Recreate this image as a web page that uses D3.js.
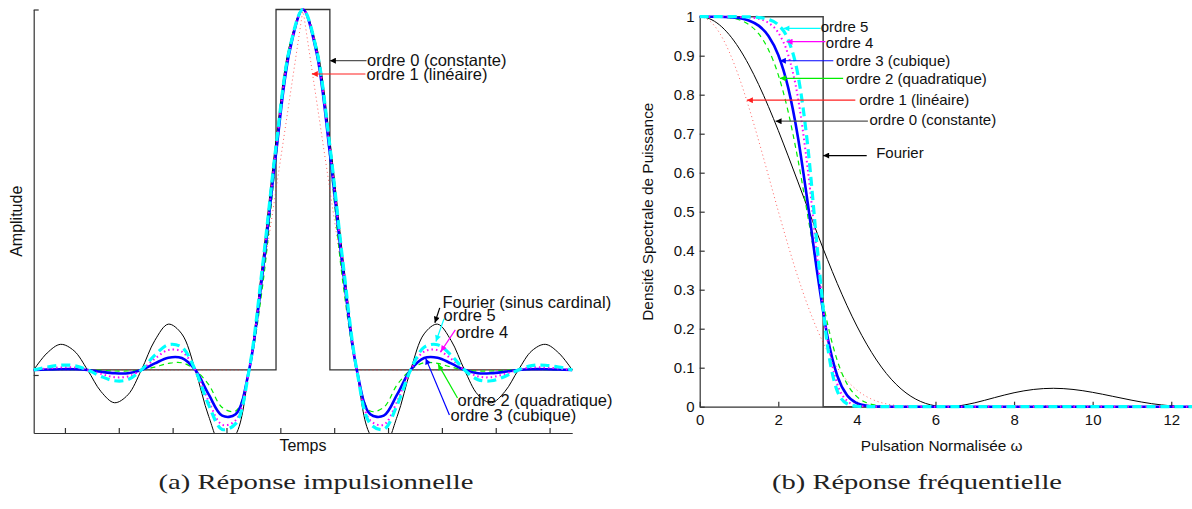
<!DOCTYPE html>
<html>
<head>
<meta charset="utf-8">
<script src="https://cdn.jsdelivr.net/npm/d3@7"></script>
<style>
  body { margin: 0; background: #fff; }
  svg { display: block; }
  text { font-family: "Liberation Sans", Arial, Helvetica, sans-serif; fill: #111; }
</style>
</head>
<body>
<svg width="1192" height="509"></svg>
<script>
// ---- (a) impulse response : time samples and kernel values
const tAxis = [-5,-4.75,-4.5,-4.25,-4,-3.75,-3.5,-3.25,-3,-2.75,-2.5,-2.25,-2,-1.75,-1.5,-1.25,-1,-0.75,-0.5,-0.25,
               0,0.25,0.5,0.75,1,1.25,1.5,1.75,2,2.25,2.5,2.75,3,3.25,3.5,3.75,4,4.25,4.5,4.75,5];
const sincVals = [0,0.047,0.071,0.053,0,-0.060,-0.091,-0.069,0,0.082,0.127,0.100,0,-0.129,-0.212,-0.180,0,0.300,0.637,0.900,
                  1,0.900,0.637,0.300,0,-0.180,-0.212,-0.129,0,0.100,0.127,0.082,0,-0.069,-0.091,-0.060,0,0.053,0.071,0.047,0];
const ordre2Vals = [0,0,0.001,0.001,0,-0.001,-0.003,-0.003,0,0.008,0.018,0.020,0,-0.041,-0.104,-0.114,0,0.232,0.586,0.896,
                    1,0.896,0.586,0.232,0,-0.114,-0.104,-0.041,0,0.020,0.018,0.008,0,-0.003,-0.003,-0.001,0,0.001,0.001,0,0];
const ordre3Vals = [0,0.001,0.002,0.002,0,-0.005,-0.009,-0.009,0,0.018,0.034,0.033,0,-0.068,-0.127,-0.123,0,0.269,0.601,0.882,
                    1,0.882,0.601,0.269,0,-0.123,-0.127,-0.068,0,0.033,0.034,0.018,0,-0.009,-0.009,-0.005,0,0.002,0.002,0.001,0];
const ordre4Vals = [0,0.004,0.007,0.007,0,-0.011,-0.020,-0.018,0,0.031,0.055,0.051,0,-0.087,-0.152,-0.140,0,0.283,0.614,0.887,
                    1,0.887,0.614,0.283,0,-0.140,-0.152,-0.087,0,0.051,0.055,0.031,0,-0.018,-0.020,-0.011,0,0.007,0.007,0.004,0];
const ordre5Vals = [0,0.008,0.013,0.012,0,-0.018,-0.030,-0.027,0,0.041,0.070,0.063,0,-0.097,-0.165,-0.149,0,0.289,0.621,0.890,
                    1,0.890,0.621,0.289,0,-0.149,-0.165,-0.097,0,0.063,0.070,0.041,0,-0.027,-0.030,-0.018,0,0.012,0.013,0.008,0];
const tRect = [-5,-0.5,-0.5,0.5,0.5,5];
const rectVals = [0,0,1,1,0,0];
const tTri = [-5,-1,0,1,5];
const triVals = [0,0,1,0,0];
const xTicksL = [-4.42,-3.42,-2.42,-1.42,-0.42,0.58,1.58,2.58,3.58,4.58];
const yTicksL = [-0.014,1];

// ---- (b) frequency response : normalised pulsation and power spectral density
const omega = [0,0.25,0.5,0.75,1,1.25,1.5,1.75,2,2.25,2.5,2.75,3,3.25,3.5,3.75,4,4.25,4.5,4.75,5,5.25,5.5,5.75,6,6.25,6.5,
               7,7.5,8,8.5,9,9.5,10,10.5,11,11.5,12,12.5,12.566];
const dsp0 = [1,0.9948,0.9793,0.9540,0.9194,0.8764,0.8260,0.7695,0.7081,0.6432,0.5764,0.5089,0.4422,0.3776,0.3162,0.2589,0.2067,
              0.1603,0.1196,0.0852,0.0573,0.0354,0.0193,0.0084,0.0022,0,0.0011,
              0.0100,0.0232,0.0358,0.0443,0.0472,0.0443,0.0368,0.0268,0.0165,0.0078,0.0022,0,0];
const dsp1 = [1,0.9896,0.9591,0.9101,0.8453,0.7681,0.6823,0.5921,0.5014,0.4137,0.3322,0.2590,0.1956,0.1426,0.1000,0.0670,0.0427,
              0.0257,0.0143,0.0073,0.0033,0.0013,0.0004,0.0001,0,0,0,
              0.0001,0.0005,0.0013,0.0020,0.0022,0.0020,0.0014,0.0007,0.0003,0.0001,0,0,0];
const dsp2 = [1,1,0.9995,0.9976,0.9921,0.9798,0.9563,0.9155,0.8508,0.7569,0.6336,0.4895,0.3425,0.2141,0.1187,0.0585,0.0257,
              0.0101,0.0035,0.0011,0.0003,0.0001,0,0,0,0,0,
              0,0,0,0,0,0,0,0,0,0,0,0,0];
const dsp3 = [1,1,0.9998,0.9990,0.9965,0.9904,0.9771,0.9507,0.9018,0.8187,0.6911,0.5217,0.3374,0.1808,0.0795,0.0291,0.0091,
              0.0025,0.0006,0.0001,0,0,0,0,0,0,0,
              0,0,0,0,0,0,0,0,0,0,0,0,0];
const dsp4 = [1,1,1,0.9999,0.9996,0.9984,0.9946,0.9842,0.9589,0.9029,0.7924,0.6089,0.3760,0.1732,0.0586,0.0153,0.0033,
              0.0006,0.0001,0,0,0,0,0,0,0,0,
              0,0,0,0,0,0,0,0,0,0,0,0,0];
const dsp5 = [1,1,1,1,0.9999,0.9995,0.9980,0.9932,0.9791,0.9415,0.8509,0.6679,0.3984,0.1579,0.0406,0.0075,0.0011,
              0.0001,0,0,0,0,0,0,0,0,0,
              0,0,0,0,0,0,0,0,0,0,0,0,0];
const omegaFourier = [0,3.1416,3.1416,12.566];
const dspFourier = [1,1,0,0];
const xTicksR = [0,2,4,6,8,10,12];
const yTicksR = [0,0.1,0.2,0.3,0.4,0.5,0.6,0.7,0.8,0.9,1];

// ---- annotations (data coordinates of text, arrow tail and arrow tip)
const labelsL = ['ordre 0 (constante)','ordre 1 (linéaire)','Fourier (sinus cardinal)','ordre 5','ordre 4','ordre 2 (quadratique)','ordre 3 (cubique)'];
const textAtL = [[1.19,0.858],[1.18,0.821],[2.59,0.189],[2.61,0.151],[2.84,0.104],[2.87,-0.083],[2.74,-0.125]];
const tailL   = [[1.18,0.858],[1.16,0.821],[2.54,0.172],[2.62,0.142],[2.83,0.111],[2.87,-0.078],[2.72,-0.125]];
const tipL    = [[0.50,0.858],[0.165,0.821],[2.45,0.131],[2.47,0.079],[2.56,0.051],[2.51,0.016],[2.28,0.032]];

const labelsR = ['ordre 5','ordre 4','ordre 3 (cubique)','ordre 2 (quadratique)','ordre 1 (linéaire)','ordre 0 (constante)','Fourier'];
const textAtR = [[3.08,0.974],[3.21,0.934],[3.47,0.887],[3.72,0.840],[4.06,0.786],[4.32,0.735],[4.49,0.650]];
const tailR   = [[3.08,0.970],[3.20,0.936],[3.40,0.887],[3.65,0.842],[3.96,0.786],[4.28,0.732],[4.25,0.644]];
const tipR    = [[2.13,0.970],[2.21,0.936],[2.04,0.887],[2.04,0.842],[1.20,0.786],[1.93,0.732],[3.1416,0.644]];

const svg = d3.select('svg');
const width = +svg.attr('width');

// colours per order (MATLAB style)
const cBlack = '#000', cRed = '#ff2020', cGreen = '#00ee00', cBlue = '#0000ff', cMagenta = '#ff00ff', cCyan = '#00ffff';

// scales
const xL = d3.scaleLinear().domain([-5, 5]).range([33.7, 572.2]);
const yL = d3.scaleLinear().domain([-0.175, 1]).range([433, 9.5]);
const xR = d3.scaleLinear().domain([0, 4 * Math.PI]).range([699.7, 1193.5]);
const yR = d3.scaleLinear().domain([0, 1]).range([406.7, 16.7]);

const defs = svg.append('defs');
defs.append('clipPath').attr('id', 'clipL')
  .append('rect').attr('x', 33).attr('y', 0).attr('width', 541).attr('height', 433);
defs.append('clipPath').attr('id', 'clipR')
  .append('rect').attr('x', 699).attr('y', 0).attr('width', 500).attr('height', 410);

function marker(id, color) {
  defs.append('marker')
    .attr('id', id)
    .attr('viewBox', '0 0 10 10')
    .attr('refX', 10).attr('refY', 5)
    .attr('markerUnits', 'userSpaceOnUse')
    .attr('markerWidth', 8).attr('markerHeight', 6)
    .attr('orient', 'auto')
    .append('path').attr('d', 'M0,0L10,5L0,10Z').attr('fill', color);
}
marker('mk-black', cBlack);
marker('mk-red', cRed);
marker('mk-green', cGreen);
marker('mk-blue', cBlue);
marker('mk-magenta', cMagenta);
marker('mk-cyan', cCyan);

function styleAxis(g, size) {
  g.attr('font-family', '"Liberation Sans", Arial, sans-serif').attr('font-size', size);
  g.selectAll('path.domain').attr('stroke', '#333').attr('stroke-width', 1.2);
  g.selectAll('.tick line').attr('stroke', '#333').attr('stroke-width', 1.2);
  g.selectAll('.tick text').attr('fill', '#111');
}

// ================= panel (a) =================
const gA = svg.append('g');

gA.append('g').attr('transform', 'translate(0,433)')
  .call(d3.axisTop(xL).tickValues(xTicksL).tickSize(5).tickSizeOuter(0).tickFormat(''))
  .call(g => styleAxis(g, 16));
gA.append('g').attr('transform', 'translate(33.7,0)')
  .call(d3.axisRight(yL).tickValues(yTicksL).tickSize(5).tickSizeOuter(0).tickFormat(''))
  .call(g => styleAxis(g, 16));

const curvesA = gA.append('g').attr('clip-path', 'url(#clipL)');
const smoothL = d3.line().x(d => xL(d[0])).y(d => yL(d[1])).curve(d3.curveCatmullRom.alpha(0.5));
const straightL = d3.line().x(d => xL(d[0])).y(d => yL(d[1]));

curvesA.append('path').attr('d', straightL(d3.zip(tRect, rectVals)))
  .attr('fill', 'none').attr('stroke', '#333').attr('stroke-width', 1.3);
curvesA.append('path').attr('d', smoothL(d3.zip(tAxis, sincVals)))
  .attr('fill', 'none').attr('stroke', cBlack).attr('stroke-width', 1);
curvesA.append('path').attr('d', straightL(d3.zip(tTri, triVals)))
  .attr('fill', 'none').attr('stroke', cRed).attr('stroke-width', 1).attr('stroke-dasharray', '1,3').attr('opacity', 0.7);
curvesA.append('path').attr('d', smoothL(d3.zip(tAxis, ordre2Vals)))
  .attr('fill', 'none').attr('stroke', cGreen).attr('stroke-width', 1.2).attr('stroke-dasharray', '5,4');
curvesA.append('path').attr('d', smoothL(d3.zip(tAxis, ordre3Vals)))
  .attr('fill', 'none').attr('stroke', cBlue).attr('stroke-width', 2.6);
curvesA.append('path').attr('d', smoothL(d3.zip(tAxis, ordre4Vals)))
  .attr('fill', 'none').attr('stroke', cMagenta).attr('stroke-width', 2).attr('stroke-dasharray', '1.5,3');
curvesA.append('path').attr('d', smoothL(d3.zip(tAxis, ordre5Vals)))
  .attr('fill', 'none').attr('stroke', cCyan).attr('stroke-width', 3.2).attr('stroke-dasharray', '9,5');

const colorsL = [cBlack, cRed, cBlack, cCyan, cMagenta, cGreen, cBlue];
const lineColL = ['#555', cRed, cBlack, cCyan, cMagenta, cGreen, cBlue];
const mkL = ['mk-black', 'mk-red', 'mk-black', 'mk-cyan', 'mk-magenta', 'mk-green', 'mk-blue'];
labelsL.forEach((lab, i) => {
  gA.append('line')
    .attr('x1', xL(tailL[i][0])).attr('y1', yL(tailL[i][1]))
    .attr('x2', xL(tipL[i][0])).attr('y2', yL(tipL[i][1]))
    .attr('stroke', lineColL[i]).attr('stroke-width', 1.2)
    .attr('marker-end', `url(#${mkL[i]})`);
  gA.append('text')
    .attr('x', xL(textAtL[i][0])).attr('y', yL(textAtL[i][1]))
    .attr('dy', '0.35em')
    .style('font-size', '16.5px')
    .text(lab);
});

gA.append('text')
  .attr('transform', `translate(21.5,${(yL.range()[0] + yL.range()[1]) / 2}) rotate(-90)`)
  .attr('text-anchor', 'middle').style('font-size', '16px')
  .text('Amplitude');
gA.append('text')
  .attr('x', xL(0)).attr('y', 450.5)
  .attr('text-anchor', 'middle').style('font-size', '16px')
  .text('Temps');

// ================= panel (b) =================
const gB = svg.append('g');

gB.append('g').attr('transform', `translate(0,${yR(0)})`)
  .call(d3.axisBottom(xR).tickValues(xTicksR).tickSizeInner(-5).tickSizeOuter(0).tickPadding(7.6).tickFormat(d3.format('d')))
  .call(g => styleAxis(g, 15));
gB.append('g').attr('transform', `translate(${xR(0)},0)`)
  .call(d3.axisLeft(yR).tickValues(yTicksR).tickSizeInner(-5).tickSizeOuter(0).tickPadding(5).tickFormat(d3.format('~g')))
  .call(g => styleAxis(g, 15));

const curvesB = gB.append('g').attr('clip-path', 'url(#clipR)');
const smoothR = d3.line().x(d => xR(d[0])).y(d => yR(d[1])).curve(d3.curveMonotoneX);
const straightR = d3.line().x(d => xR(d[0])).y(d => yR(d[1]));

curvesB.append('path').attr('d', straightR(d3.zip(omegaFourier, dspFourier)))
  .attr('fill', 'none').attr('stroke', '#444').attr('stroke-width', 1.5);
curvesB.append('path').attr('d', smoothR(d3.zip(omega, dsp0)))
  .attr('fill', 'none').attr('stroke', cBlack).attr('stroke-width', 1);
curvesB.append('path').attr('d', smoothR(d3.zip(omega, dsp1)))
  .attr('fill', 'none').attr('stroke', cRed).attr('stroke-width', 1).attr('stroke-dasharray', '1,3').attr('opacity', 0.7);
curvesB.append('path').attr('d', smoothR(d3.zip(omega, dsp2)))
  .attr('fill', 'none').attr('stroke', cGreen).attr('stroke-width', 1.2).attr('stroke-dasharray', '5,4');
curvesB.append('path').attr('d', smoothR(d3.zip(omega, dsp3)))
  .attr('fill', 'none').attr('stroke', cBlue).attr('stroke-width', 2.6);
curvesB.append('path').attr('d', smoothR(d3.zip(omega, dsp4)))
  .attr('fill', 'none').attr('stroke', cMagenta).attr('stroke-width', 2).attr('stroke-dasharray', '1.5,3');
curvesB.append('path').attr('d', smoothR(d3.zip(omega, dsp5)))
  .attr('fill', 'none').attr('stroke', cCyan).attr('stroke-width', 3.2).attr('stroke-dasharray', '9,5');

const lineColR = [cCyan, cMagenta, cBlue, cGreen, cRed, '#555', cBlack];
const mkR = ['mk-cyan', 'mk-magenta', 'mk-blue', 'mk-green', 'mk-red', 'mk-black', 'mk-black'];
labelsR.forEach((lab, i) => {
  gB.append('line')
    .attr('x1', xR(tailR[i][0])).attr('y1', yR(tailR[i][1]))
    .attr('x2', xR(tipR[i][0])).attr('y2', yR(tipR[i][1]))
    .attr('stroke', lineColR[i]).attr('stroke-width', 1.2)
    .attr('marker-end', `url(#${mkR[i]})`);
  gB.append('text')
    .attr('x', xR(textAtR[i][0])).attr('y', yR(textAtR[i][1]))
    .attr('dy', '0.35em')
    .style('font-size', '15px')
    .text(lab);
});

gB.append('text')
  .attr('transform', `translate(653,${(yR(0) + yR(1)) / 2}) rotate(-90)`)
  .attr('text-anchor', 'middle').style('font-size', '15.4px')
  .text('Densité Spectrale de Puissance');
gB.append('text')
  .attr('x', 941.7).attr('y', 451)
  .attr('text-anchor', 'middle').style('font-size', '15.4px')
  .text('Pulsation Normalisée ω');

// ================= captions =================
const captions = ['(a) Réponse impulsionnelle', '(b) Réponse fréquentielle'];
const captionX = [316, 917];
const captionW = [315, 290];
captions.forEach((c, i) => {
  svg.append('text')
    .attr('x', captionX[i]).attr('y', 489)
    .attr('text-anchor', 'middle')
    .attr('textLength', captionW[i]).attr('lengthAdjust', 'spacingAndGlyphs')
    .style('font-family', '"Liberation Serif", "DejaVu Serif", serif')
    .style('font-size', '22px').style('fill', '#222')
    .text(c);
});
</script>
</body>
</html>
